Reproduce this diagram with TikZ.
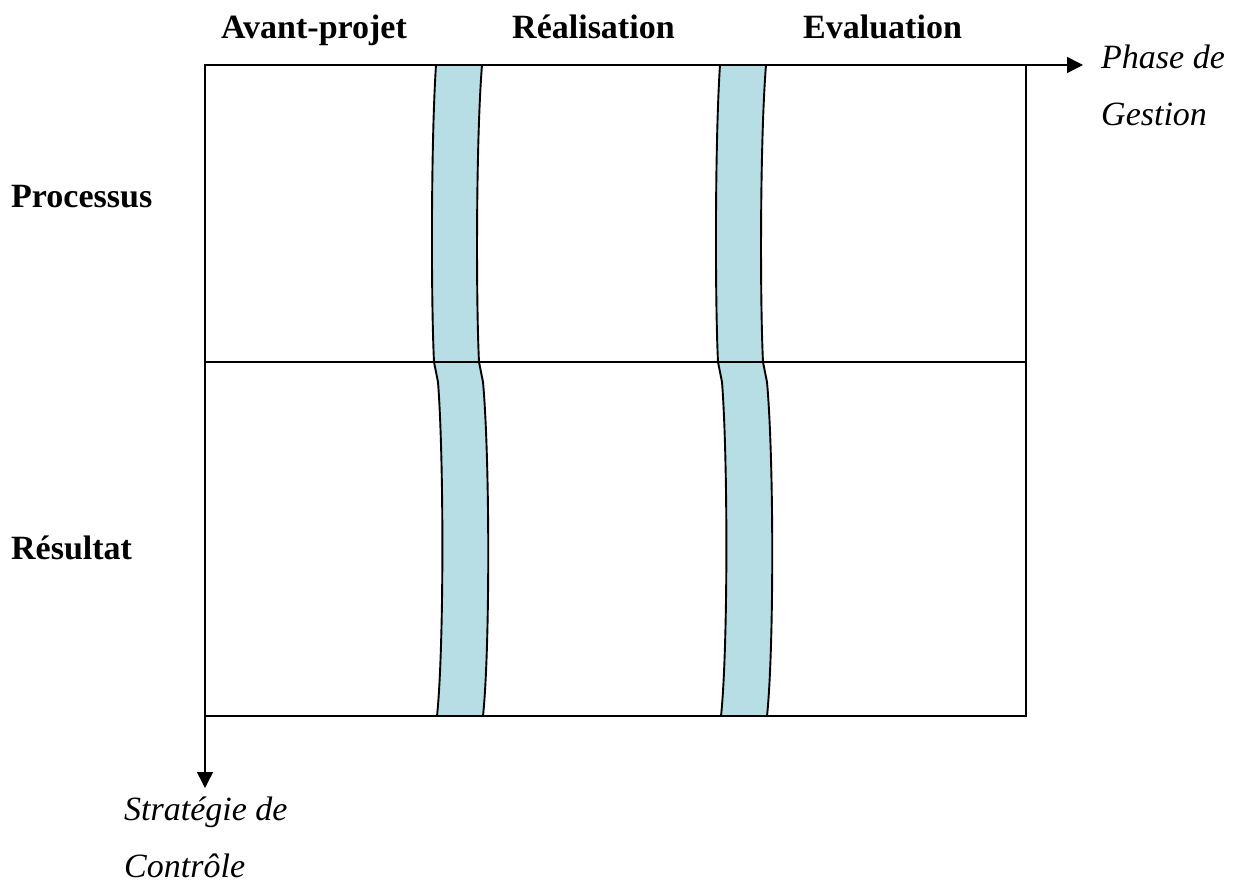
\documentclass[tikz,border=0pt]{standalone}
\usepackage{fontspec}
\setmainfont{Liberation Serif}
\usetikzlibrary{arrows.meta,positioning}
\definecolor{bandblue}{RGB}{183,222,228}

\begin{document}
\begin{tikzpicture}[x=1pt,y=-1pt,
  every node/.style={inner sep=0pt,font=\fontsize{34}{40}\selectfont},
  headlabel/.style={anchor=base west,font=\fontsize{34}{40}\selectfont\bfseries},
  axislabel/.style={anchor=base west,font=\fontsize{34}{40}\selectfont\itshape},
  band/.style={fill=bandblue,draw=black,line width=1.9pt,line join=round},
  frame/.style={line width=1.5pt},
  axis/.style={line width=1.5pt,-{Triangle[length=16pt,width=16pt]}}]
  \path[use as bounding box] (0,0) rectangle (1237,890);
  % Corners of the grid.
  \coordinate (tl) at (205,65);
  \coordinate (tr) at (1026,65);
  \coordinate (bl) at (205,716);
  \coordinate (br) at (1026,716);
  \coordinate (ml) at (205,362);
  \coordinate (mr) at (1026,362);
  \coordinate (phaseTip) at (1083,65);
  \coordinate (ctrlTip) at (205,788);

  % Transition bands between the phases.
  \foreach \dx in {0,284} {
    \begin{scope}[xshift=\dx]
      \draw[band] (436,65) .. controls (431,140) and (431,300) .. (434,362)
        -- (438,382) .. controls (444,460) and (444,650) .. (437,716)
        -- (483,716) .. controls (490,650) and (490,460) .. (483,382)
        -- (479,362) .. controls (476,300) and (476,140) .. (482,65) -- cycle;
    \end{scope}
  }

  % Grid and axes.
  \draw[frame] (tl) rectangle (br);
  \draw[frame] (ml) -- (mr);
  \draw[axis] (tr) -- (phaseTip);
  \draw[axis] (bl) -- (ctrlTip);

  % Column and row headings.
  \node[headlabel] (avant) at (221,39) {Avant-projet};
  \node[headlabel] (real) at (512,39) {Réalisation};
  \node[headlabel] (eval) at (803,39) {Evaluation};
  \node[headlabel] (proc) at (11,208) {Processus};
  \node[headlabel] (resu) at (11,559) {Résultat};

  % Axis names.
  \node[axislabel] (phase) at (1101,69) {Phase de};
  \node[axislabel] (gestion) at (1101,126) {Gestion};
  \node[axislabel] (strat) at (124,820) {Stratégie de};
  \node[axislabel] (ctrl) at (124,877) {Contrôle};
\end{tikzpicture}
\end{document}
